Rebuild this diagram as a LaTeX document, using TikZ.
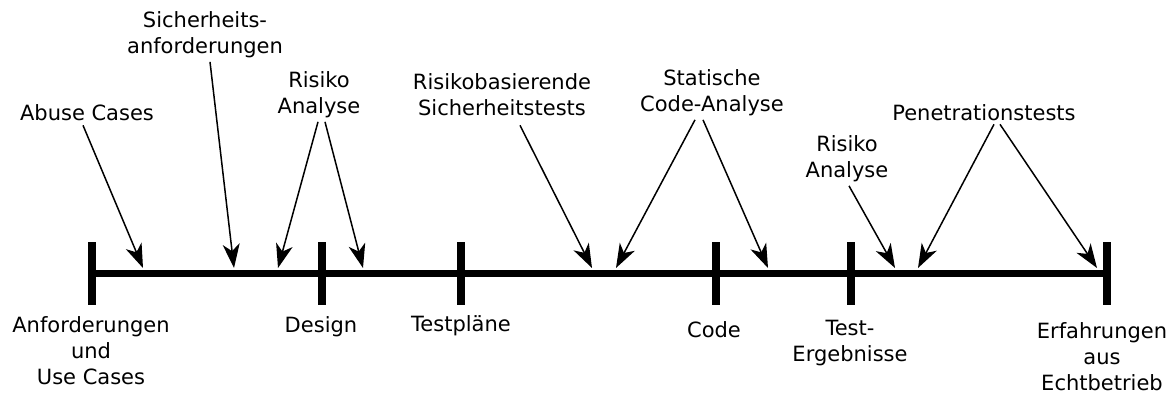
\documentclass[tikz,border=0pt]{standalone}
\usepackage{fontspec}
\setmainfont{DejaVu Sans}
\usetikzlibrary{arrows.meta}
\begin{document}
\begin{tikzpicture}[x=1pt,y=-1pt,
  lbl/.style={font=\fontsize{21}{26}\selectfont, align=center, inner sep=2pt},
  axis/.style={line width=7pt},
  tick/.style={line width=8pt},
  arr/.style={line width=1.5pt, -{Stealth[length=24pt,width=17pt,inset=7pt]}}]
\useasboundingbox (0,0) rectangle (1176,393);

% timeline and phase ticks
\coordinate (p0) at (92,273);
\coordinate (p1) at (322,273);
\coordinate (p2) at (461,273);
\coordinate (p3) at (716,273);
\coordinate (p4) at (851,273);
\coordinate (p5) at (1107,273);
\draw[axis] (p0) -- (p5);
\foreach \p in {p0,p1,p2,p3,p4,p5}
  \draw[tick] ([yshift=31pt]\p) -- ([yshift=-32pt]\p);

% phase labels
\node[lbl] (req)  at (91,351)   {Anforderungen\\und\\Use Cases};
\node[lbl] (des)  at (321,327)  {Design};
\node[lbl] (tpl)  at (461,326)  {Testpläne};
\node[lbl] (code) at (714,330)  {Code};
\node[lbl] (res)  at (850,343)  {Test-\\Ergebnisse};
\node[lbl] (ops)  at (1102,357) {Erfahrungen\\aus\\Echtbetrieb};

% activity labels
\node[lbl] (abuse) at (87,113)  {Abuse Cases};
\node[lbl] (secr)  at (205,35)  {Sicherheits-\\anforderungen};
\node[lbl] (risk1) at (319,95)  {Risiko\\Analyse};
\node[lbl] (rbt)   at (502,95)  {Risikobasierende\\Sicherheitstests};
\node[lbl] (sca)   at (712,93)  {Statische\\Code-Analyse};
\node[lbl] (risk2) at (847,159) {Risiko\\Analyse};
\node[lbl] (pen)   at (984,113) {Penetrationstests};

% points where activities hit the timeline
\coordinate (hAbuse) at (143,268);
\coordinate (hSecr)  at (234,268);
\coordinate (hRisk1a) at (278,268);
\coordinate (hRisk1b) at (363,268);
\coordinate (hRbt)   at (592,268);
\coordinate (hScaA)  at (616,268);
\coordinate (hScaB)  at (768,268);
\coordinate (hRisk2) at (895,268);
\coordinate (hPenA)  at (918,268);
\coordinate (hPenB)  at (1097,268);

% activity arrows
\draw[arr] ([xshift=-4pt,yshift=-2pt]abuse.south) -- (hAbuse);
\draw[arr] ([xshift=5pt,yshift=-1.5pt]secr.south) -- (hSecr);
\draw[arr] ([xshift=-1pt,yshift=-1.5pt]risk1.south) -- (hRisk1a);
\draw[arr] ([xshift=6pt,yshift=-1.5pt]risk1.south) -- (hRisk1b);
\draw[arr] ([xshift=18pt,yshift=-7pt]rbt.south) -- (hRbt);
\draw[arr] ([xshift=-17pt,yshift=-1.5pt]sca.south) -- (hScaA);
\draw[arr] ([xshift=-9pt,yshift=-1.5pt]sca.south) -- (hScaB);
\draw[arr] ([xshift=2pt,yshift=-1.5pt]risk2.south) -- (hRisk2);
\draw[arr] ([xshift=10pt,yshift=-1pt]pen.south) -- (hPenA);
\draw[arr] ([xshift=16pt,yshift=-1pt]pen.south) -- (hPenB);
\end{tikzpicture}
\end{document}
